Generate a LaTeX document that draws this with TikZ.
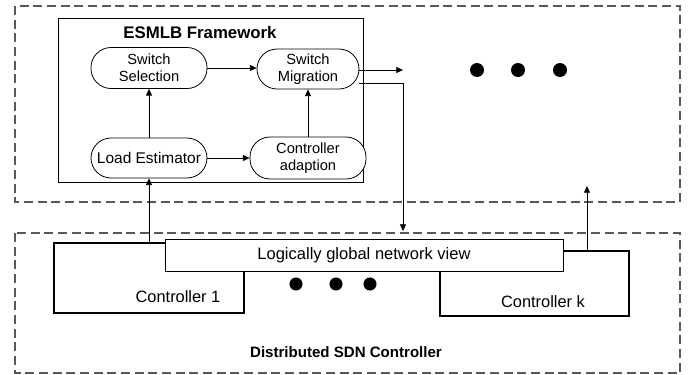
\documentclass[tikz,border=0pt]{standalone}
\usepackage{fontspec}
\setmainfont{Liberation Sans}
\usetikzlibrary{arrows.meta}
\begin{document}
\begin{tikzpicture}[x=0.75pt,y=-0.75pt,
  dashbox/.style={draw=black!65,line width=0.8pt,dash pattern=on 6.75pt off 3.5pt},
  stadium/.style={draw,line width=0.6pt,rounded corners=15pt,fill=white,align=center,inner sep=1pt,font=\fontsize{11}{13}\selectfont},
  ctrlbox/.style={draw,line width=1.4pt,fill=white},
  arr/.style={-{Triangle[length=5pt,width=4.5pt]},line width=0.6pt},
  dot/.style={circle,fill=black,inner sep=0pt}
]
\useasboundingbox (0,0) rectangle (697,375);
% dashed regions
\draw[dashbox] (15,6) rectangle (680,202);
\draw[dashbox] (15,233) rectangle (680,373);
% ESMLB framework
\draw[line width=0.7pt] (58,18) rectangle (363,182);
\node[font=\bfseries\fontsize{12.6}{14}\selectfont] (title) at (200,32) {ESMLB Framework};
\node[stadium,minimum width=87pt,minimum height=30.75pt] (ss) at (149,68) {Switch\\Selection};
\node[stadium,minimum width=76.5pt,minimum height=30pt] (sm) at (308,69) {Switch\\Migration};
\node[stadium,minimum width=87pt,minimum height=30pt,font=\fontsize{11.6}{13}\selectfont] (le) at (149,158) {Load Estimator};
\node[stadium,minimum width=87pt,minimum height=31.5pt] (ca) at (308,158) {Controller\\adaption};
\draw[arr] (ss.east) -- (ss.east -| sm.west);
\draw[arr] (le.north) -- (ss.south);
\draw[arr] (le.east) -- (ca.west);
\draw[arr] (ca.north) -- (sm.south);
% outgoing
\coordinate (outr) at (403,70);
\draw[arr] (sm.east |- outr) -- (outr);
\coordinate (mstart) at (359,83);
\coordinate (mend) at (403,231);
\draw[arr] (mstart) -| (mend);
% upper dots
\node[dot,minimum size=10.5pt] (d1) at (477,70) {};
\node[dot,minimum size=10.5pt] (d2) at (518,70) {};
\node[dot,minimum size=10.5pt] (d3) at (560,70) {};
% controllers
\node[ctrlbox,minimum width=142.5pt,minimum height=52.5pt] (c1) at (149,278) {};
\node[ctrlbox,minimum width=141.75pt,minimum height=48.75pt] (ck) at (534.5,283.5) {};
\node[font=\fontsize{12.3}{14}\selectfont] (c1t) at (178,297) {Controller 1};
\node[font=\fontsize{12.3}{14}\selectfont] (ckt) at (543,302) {Controller k};
\node[draw,line width=0.6pt,fill=white,minimum width=298.5pt,minimum height=24pt,font=\fontsize{12.4}{14}\selectfont] (gv) at (364,255) {Logically global network view};
\node[dot,minimum size=9.8pt] (e1) at (296,284) {};
\node[dot,minimum size=9.8pt] (e2) at (336,284) {};
\node[dot,minimum size=9.8pt] (e3) at (370,284) {};
\draw[arr] (c1.north) -- (le.south);
\coordinate (kup) at (587,186);
\draw[arr] (ck.north -| kup) -- (kup);
\node[font=\bfseries\fontsize{11.3}{13}\selectfont] (dsdn) at (346,352) {Distributed SDN Controller};
\end{tikzpicture}
\end{document}
